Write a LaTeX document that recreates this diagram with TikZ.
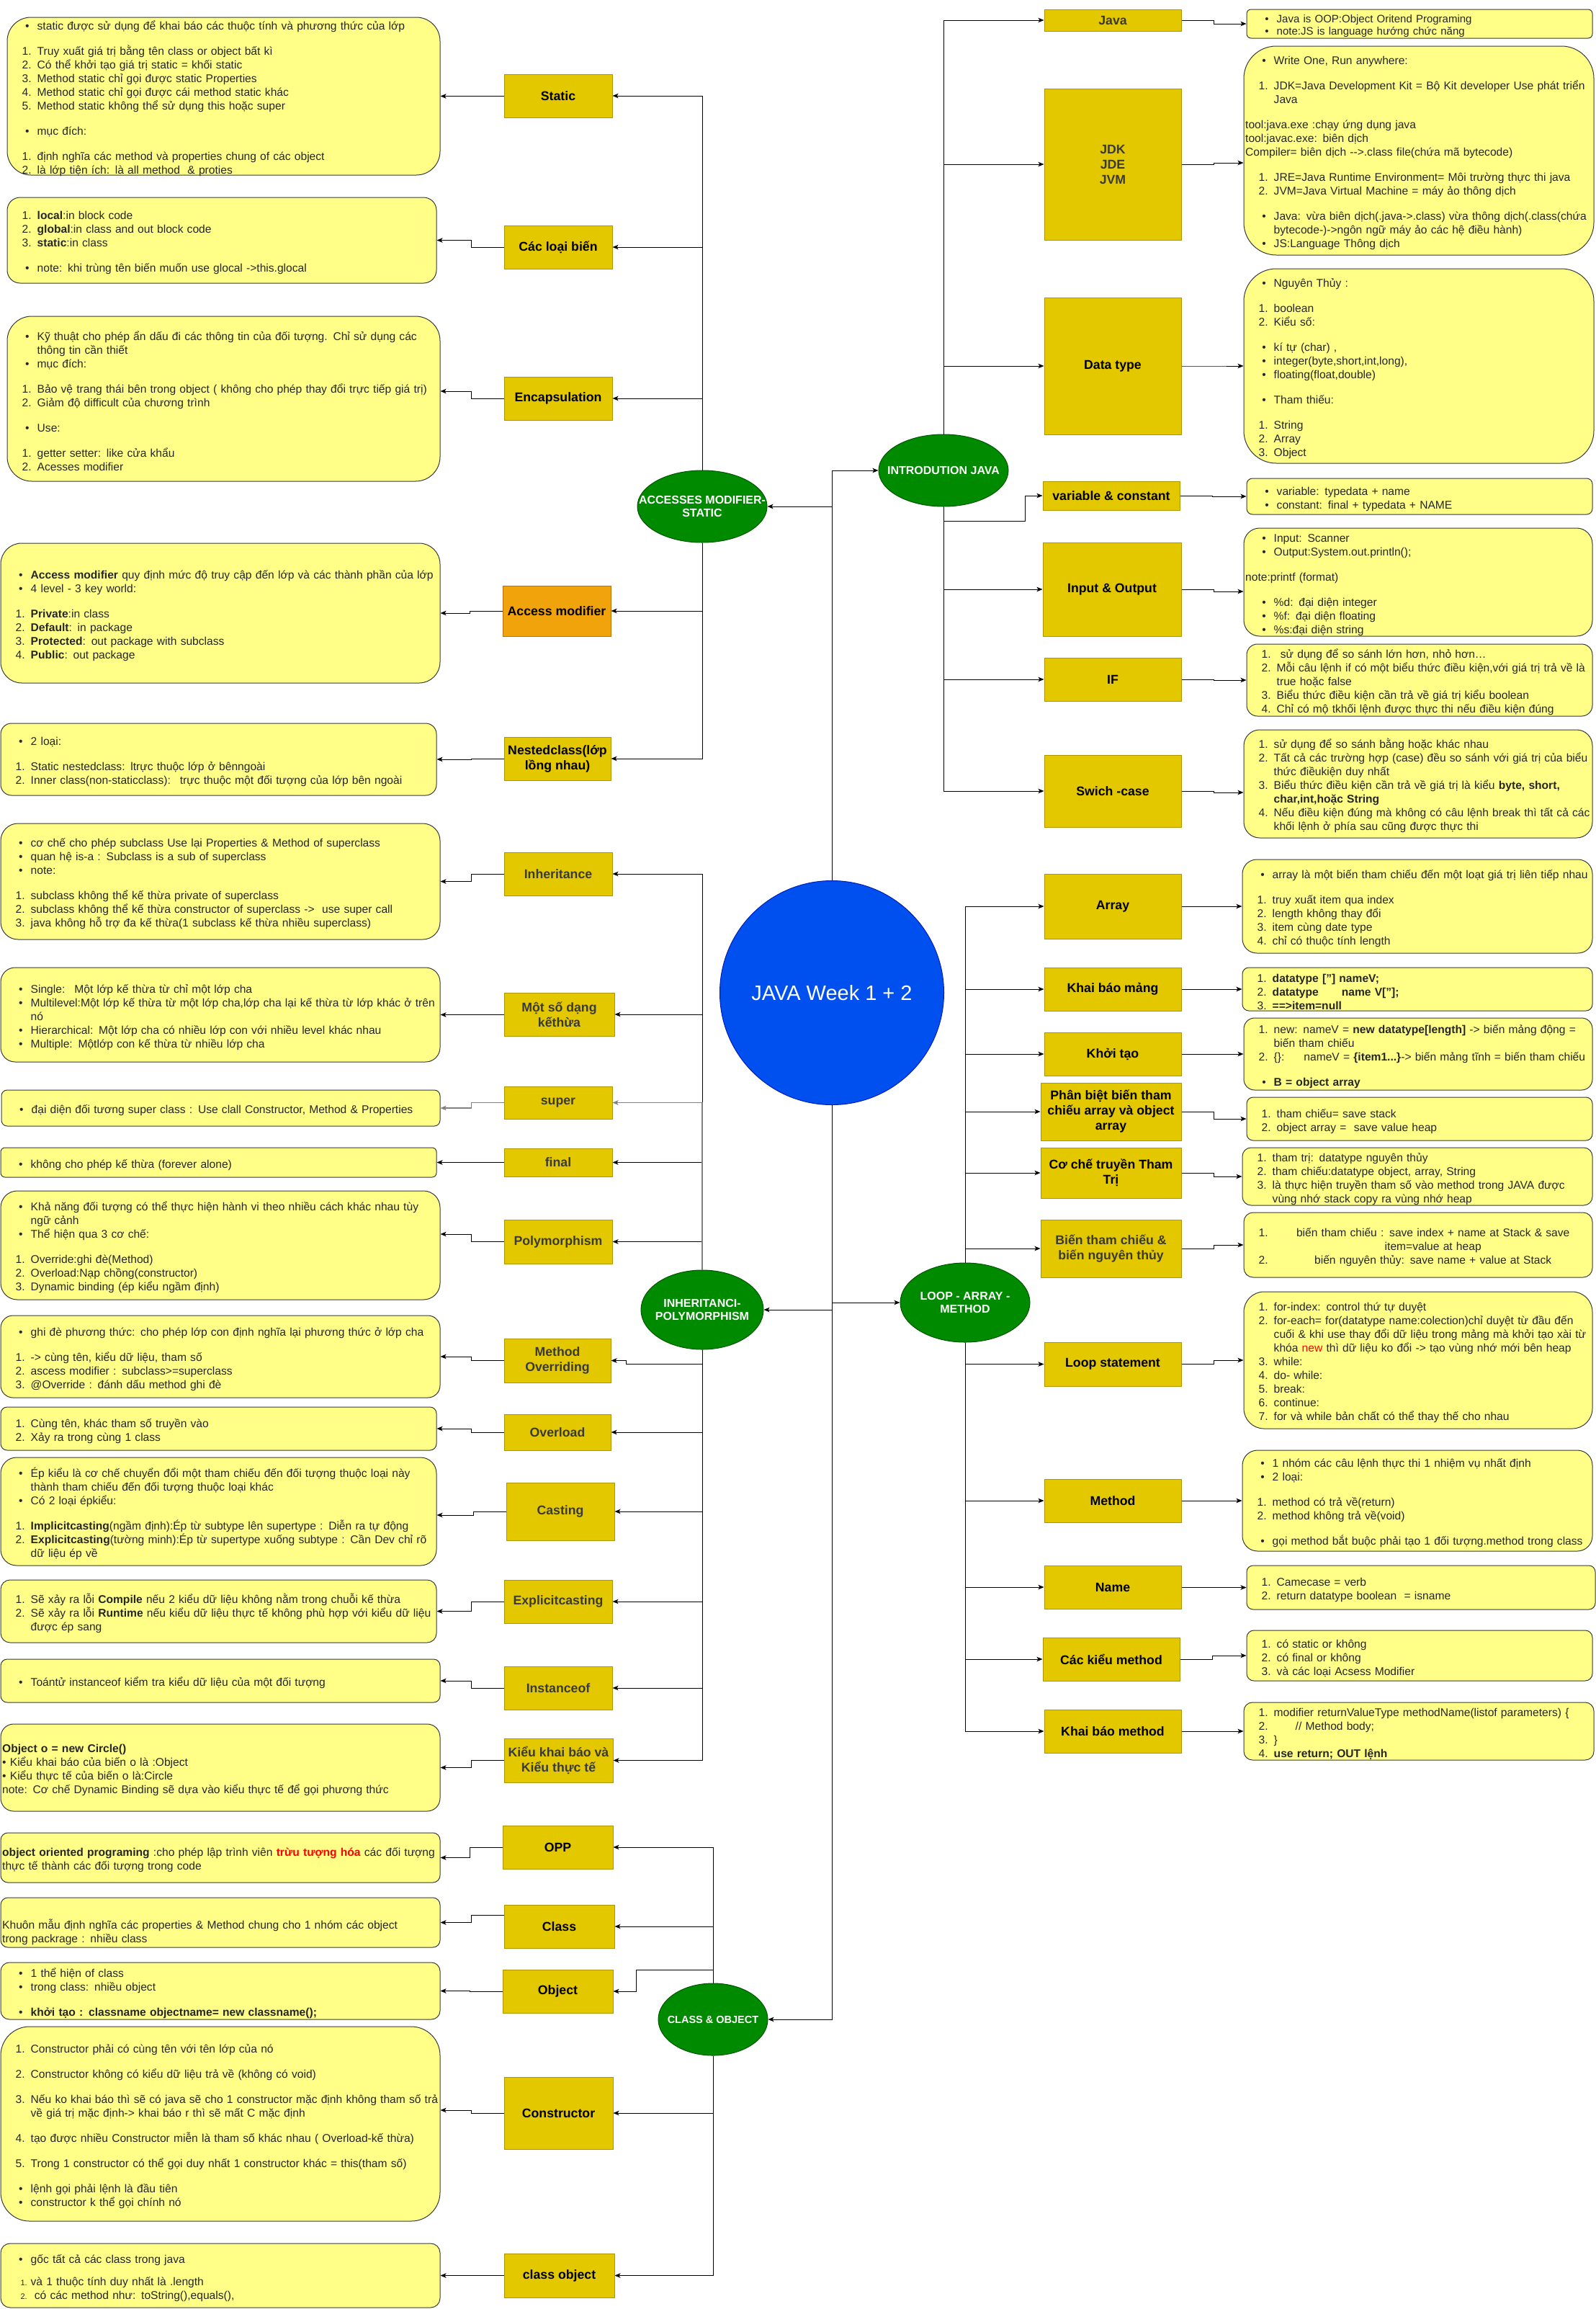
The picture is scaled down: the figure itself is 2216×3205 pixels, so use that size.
\documentclass[tikz,border=0pt]{standalone}
\usepackage{fontspec}
\setmainfont{Liberation Sans}
\usetikzlibrary{shapes.geometric,arrows.meta,calc}
\definecolor{boxfill}{HTML}{E3C800}
\definecolor{boxline}{HTML}{B09500}
\definecolor{ofill}{HTML}{F0A30A}
\definecolor{oline}{HTML}{BD7000}
\definecolor{notefill}{HTML}{FFFF88}
\definecolor{noteline}{HTML}{36393D}
\definecolor{hubfill}{HTML}{008A00}
\definecolor{hubline}{HTML}{005700}
\definecolor{mainfill}{HTML}{0050EF}
\definecolor{mainline}{HTML}{001DBC}
\definecolor{ntxt}{HTML}{262626}
\definecolor{gtxt}{HTML}{3A3A3A}
\definecolor{gline}{HTML}{808080}
\definecolor{redtxt}{HTML}{FF0000}

\newlength\IND \setlength\IND{39.5pt}
\newcommand\BU{\par\noindent\hangindent\IND\hangafter1\hbox to\IND{\hfil\textbullet\hskip11pt}\ignorespaces}
\newcommand\NU[1]{\par\noindent\hangindent\IND\hangafter1\hbox to\IND{\hfil#1.\hskip8pt}\ignorespaces}
\newcommand\SNU[1]{\par\noindent\hangindent\IND\hangafter1\hbox to\IND{\hfil{\fontsize{11}{11}\selectfont#1.}\hskip5pt}\ignorespaces}
\newcommand\PL{\par\noindent\ignorespaces}
\newcommand\GAP[1][16pt]{\par\vspace{#1}}

\newcommand\NOTE[7]{%
  \node[note, minimum width=#4pt, minimum height=#5pt, rounded corners=#6pt] (#1) at (#2,#3) {};
  \pgfmathsetmacro\notetw{#4+60}%
  \node[ntext, text width=\notetw pt] (#1t) at ([xshift=2.5pt]#1.west) {#7\par};
}
\newcommand\LE[3][0pt]{\draw[conn] (#2.west) -- ++(-45,0) |- ([yshift=#1]#3.east);}
\newcommand\RE[3][0pt]{\draw[conn] (#2.east) -- ++(45,0) |- ([yshift=#1]#3.west);}

\begin{document}
\begin{tikzpicture}[x=1pt,y=-1pt,
  box/.style={draw=boxline, fill=boxfill, line width=1pt, inner sep=0pt, align=center, text=black, font=\fontsize{17.7}{21}\selectfont\bfseries},
  gbox/.style={box, text=gtxt},
  obox/.style={box, fill=ofill, draw=oline},
  hub/.style={ellipse, draw=hubline, fill=hubfill, line width=1pt, inner sep=0pt},
  hubtext/.style={inner sep=0pt, align=center, text=white, font=\fontsize{16}{18.5}\selectfont\bfseries},
  note/.style={draw=noteline, fill=notefill, line width=1pt, inner sep=0pt},
  ntext/.style={anchor=west, inner sep=0pt, align=left, text=ntxt, font=\fontsize{15.6}{19}\selectfont},
  conn/.style={draw=black, line width=1pt, -{Stealth[length=8pt,width=6.5pt,inset=2pt]}},
  gconn/.style={conn, draw=gline, line width=1.4pt}
]
\useasboundingbox (0,0) rectangle (2216,3205);
\fill[white] (0,0) rectangle (2216,3205);

% ---------------- hubs ----------------
\node[ellipse, draw=mainline, fill=mainfill, line width=1pt, inner sep=0pt, minimum width=311pt, minimum height=311pt] (hMain) at (1155,1378) {};
\node[inner sep=0pt, text=white, font=\fontsize{29}{33}\selectfont] (hMainT) at (hMain.center) {JAVA Week 1 + 2};
\node[hub, minimum width=180pt, minimum height=100pt] (hAccess) at (975,703) {};
\node[hubtext] (hAccessT) at (hAccess.center) {ACCESSES MODIFIER-\\STATIC};
\node[hub, minimum width=180pt, minimum height=100pt] (hIntro) at (1310,653) {};
\node[hubtext] (hIntroT) at (hIntro.center) {INTRODUTION JAVA};
\node[hub, minimum width=170pt, minimum height=110pt] (hInherit) at (975,1818) {};
\node[hubtext] (hInheritT) at (hInherit.center) {INHERITANCI-\\POLYMORPHISM};
\node[hub, minimum width=180pt, minimum height=110pt] (hLoop) at (1340,1808) {};
\node[hubtext] (hLoopT) at (hLoop.center) {LOOP - ARRAY -\\METHOD};
\node[hub, minimum width=152pt, minimum height=100pt] (hClass) at (990,2803) {};
\node[hubtext, font=\fontsize{14.5}{17}\selectfont\bfseries] (hClassT) at (hClass.center) {CLASS \& OBJECT};

% ---------------- left boxes ----------------
\node[box, minimum width=150pt, minimum height=60pt] (bStatic) at (775,133) {Static};
\node[box, minimum width=150pt, minimum height=60pt] (bCacloai) at (775,343) {Các loại biến};
\node[box, minimum width=150pt, minimum height=60pt] (bEnc) at (775,553) {Encapsulation};
\node[obox, minimum width=150pt, minimum height=70pt] (bAccess) at (773,848) {Access modifier};
\node[box, minimum width=148pt, minimum height=60pt] (bNested) at (774,1053) {Nestedclass(lớp\\lồng nhau)};
\node[gbox, minimum width=150pt, minimum height=60pt] (bInherit) at (775,1213) {Inheritance};
\node[gbox, minimum width=153pt, minimum height=60pt] (bMotso) at (776.5,1408) {Một số dạng\\kếthừa};
\node[gbox, minimum width=150pt, minimum height=45pt] (bSuper) at (775,1530.5) {super};
\node[gbox, minimum width=150pt, minimum height=39pt] (bFinal) at (775,1613.5) {final};
\node[gbox, minimum width=150pt, minimum height=61pt] (bPoly) at (775,1723.5) {Polymorphism};
\node[gbox, minimum width=148pt, minimum height=61pt] (bOverriding) at (774,1888.5) {Method\\Overriding};
\node[gbox, minimum width=148pt, minimum height=50pt] (bOverload) at (774,1988) {Overload};
\node[gbox, minimum width=150pt, minimum height=80pt] (bCasting) at (778,2098) {Casting};
\node[gbox, minimum width=150pt, minimum height=60pt] (bExplicit) at (775,2223) {Explicitcasting};
\node[gbox, minimum width=150pt, minimum height=60pt] (bInstance) at (775,2343) {Instanceof};
\node[gbox, minimum width=151pt, minimum height=61pt] (bKieu) at (775.5,2443.5) {Kiểu khai báo và\\Kiểu thực tế};
\node[box, minimum width=153pt, minimum height=60pt] (bOPP) at (774.5,2564) {OPP};
\node[box, minimum width=153pt, minimum height=60pt] (bClass) at (776.5,2674) {Class};
\node[box, minimum width=153pt, minimum height=60pt] (bObject) at (774.5,2764) {Object};
\node[box, minimum width=151pt, minimum height=100pt] (bConstructor) at (775.5,2933) {Constructor};
\node[box, minimum width=153pt, minimum height=61pt] (bClassObject) at (776.5,3158.5) {class object};

% ---------------- right boxes ----------------
\node[gbox, minimum width=190pt, minimum height=30pt] (bJava) at (1545,28) {Java};
\node[gbox, minimum width=190pt, minimum height=210pt] (bJDK) at (1545,228) {JDK\\JDE\\JVM};
\node[box, minimum width=190pt, minimum height=190pt] (bData) at (1545,508) {Data type};
\node[box, minimum width=190pt, minimum height=40pt] (bVar) at (1543,688) {variable \& constant};
\node[box, minimum width=192pt, minimum height=130pt] (bIO) at (1544,818) {Input \& Output};
\node[box, minimum width=190pt, minimum height=60pt] (bIF) at (1545,943) {IF};
\node[box, minimum width=190pt, minimum height=100pt] (bSwich) at (1545,1098) {Swich -case};
\node[box, minimum width=190pt, minimum height=90pt] (bArray) at (1545,1258) {Array};
\node[box, minimum width=190pt, minimum height=60pt] (bKbm) at (1545,1373) {Khai báo mảng};
\node[box, minimum width=190pt, minimum height=60pt] (bKhoi) at (1545,1463) {Khởi tạo};
\node[box, minimum width=195pt, minimum height=80pt] (bPhan) at (1542.5,1543) {Phân biệt biến tham\\chiếu array và object\\array};
\node[box, minimum width=195pt, minimum height=70pt] (bCoche) at (1542.5,1628) {Cơ chế truyền Tham\\Trị};
\node[gbox, minimum width=195pt, minimum height=80pt] (bBien) at (1542.5,1733) {Biến tham chiếu \&\\biến nguyên thủy};
\node[box, minimum width=190pt, minimum height=61pt] (bLoop) at (1545,1893.5) {Loop statement};
\node[box, minimum width=190pt, minimum height=60pt] (bMethod) at (1545,2083) {Method};
\node[box, minimum width=190pt, minimum height=60pt] (bName) at (1545,2203) {Name};
\node[box, minimum width=190pt, minimum height=60pt] (bCackieu) at (1543,2303) {Các kiểu method};
\node[box, minimum width=190pt, minimum height=60pt] (bKbmethod) at (1545,2403) {Khai báo method};

% ---------------- left notes ----------------
\NOTE{nStatic}{310.5}{133.5}{601}{219}{33}{%
\BU static được sử dụng để khai báo các thuộc tính và phương thức của lớp
\GAP\NU{1}Truy xuất giá trị bằng tên class or object bất kì
\NU{2}Có thể khởi tạo giá trị static = khối static
\NU{3}Method static chỉ gọi được static Properties
\NU{4}Method static chỉ gọi được cái method static khác
\NU{5}Method static không thể sử dụng this hoặc super
\GAP\BU mục đích:
\GAP\NU{1}định nghĩa các method và properties chung of các object
\NU{2}là lớp tiện ích: là all method \ \& proties}

\NOTE{nCacloai}{308}{333.5}{596}{119}{18}{%
\NU{1}\textbf{local}:in block code
\NU{2}\textbf{global}:in class and out block code
\NU{3}\textbf{static}:in class
\GAP\BU note: khi trùng tên biến muốn use glocal ->this.glocal}

\NOTE{nEnc}{310.5}{553.5}{601}{229}{34}{%
\BU Kỹ thuật cho phép ẩn dấu đi các thông tin của đối tượng. Chỉ sử dụng các\newline thông tin cần thiết
\BU mục đích:
\GAP\NU{1}Bảo vệ trang thái bên trong object ( không cho phép thay đổi trực tiếp giá trị)
\NU{2}Giảm độ difficult của chương trình
\GAP\BU Use:
\GAP\NU{1}getter setter: like cửa khẩu
\NU{2}Acesses modifier}

\NOTE{nAccess}{306}{851}{610}{194}{29}{%
\BU \textbf{Access modifier} quy định mức độ truy cập đến lớp và các thành phần của lớp
\BU 4 level - 3 key world:
\GAP\NU{1}\textbf{Private}:in class
\NU{2}\textbf{Default}: in package
\NU{3}\textbf{Protected}: out package with subclass
\NU{4}\textbf{Public}: out package}

\NOTE{nNested}{303.5}{1054}{605}{100}{15}{%
\BU 2 loại:
\GAP\NU{1}Static nestedclass: ltrực thuộc lớp ở bênngoài
\NU{2}Inner class(non-staticclass): \ trực thuộc một đối tượng của lớp bên ngoài}

\NOTE{nInherit}{306}{1223.5}{610}{161}{24}{%
\BU cơ chế cho phép subclass Use lại Properties \& Method of superclass
\BU quan hệ is-a : Subclass is a sub of superclass
\BU note:
\GAP\NU{1}subclass không thể kế thừa private of superclass
\NU{2}subclass không thể kế thừa constructor of superclass -> \ use super call
\NU{3}java không hỗ trợ đa kế thừa(1 subclass kế thừa nhiều superclass)}

\NOTE{nMotso}{306}{1408.5}{610}{131}{20}{%
\BU Single: \ Một lớp kế thừa từ chỉ một lớp cha
\BU Multilevel:Một lớp kế thừa từ một lớp cha,lớp cha lại kế thừa từ lớp khác ở trên\newline nó
\BU Hierarchical: Một lớp cha có nhiều lớp con với nhiều level khác nhau
\BU Multiple: Mộtlớp con kế thừa từ nhiều lớp cha}

\NOTE{nSuper}{306.5}{1538}{609}{50}{8}{%
\BU đại diện đối tương super class : Use clall Constructor, Method \& Properties}

\NOTE{nFinal}{303.5}{1613.5}{605}{41}{6}{%
\BU không cho phép kế thừa (forever alone)}

\NOTE{nPoly}{306}{1728.5}{610}{151}{23}{%
\BU Khả năng đối tượng có thể thực hiện hành vi theo nhiều cách khác nhau tùy\newline ngữ cảnh
\BU Thể hiện qua 3 cơ chế:
\GAP\NU{1}Override:ghi đè(Method)
\NU{2}Overload:Nạp chồng(constructor)
\NU{3}Dynamic binding (ép kiểu ngầm định)}

\NOTE{nOverriding}{306}{1883}{610}{114}{17}{%
\BU ghi đè phương thức: cho phép lớp con định nghĩa lại phương thức ở lớp cha
\GAP\NU{1}-> cùng tên, kiểu dữ liệu, tham số
\NU{2}ascess modifier : subclass>=superclass
\NU{3}@Override : đánh dấu method ghi đè}

\NOTE{nOverload}{303.5}{1983}{605}{60}{9}{%
\NU{1}Cùng tên, khác tham số truyền vào
\NU{2}Xảy ra trong cùng 1 class}

\NOTE{nCasting}{303.5}{2098}{605}{150}{22}{%
\BU Ép kiểu là cơ chế chuyển đổi một tham chiếu đến đối tượng thuộc loại này\newline thành tham chiếu đến đối tượng thuộc loại khác
\BU Có 2 loại épkiểu:
\GAP\NU{1}\textbf{Implicitcasting}(ngầm định):Ép từ subtype lên supertype : Diễn ra tự động
\NU{2}\textbf{Explicitcasting}(tường minh):Ép từ supertype xuống subtype : Cần Dev chỉ rõ\newline dữ liệu ép về}

\NOTE{nExplicit}{303.5}{2236.5}{605}{87}{13}{%
\NU{1}Sẽ xảy ra lỗi \textbf{Compile} nếu 2 kiểu dữ liệu không nằm trong chuỗi kế thừa
\NU{2}Sẽ xảy ra lỗi \textbf{Runtime} nếu kiểu dữ liệu thực tế không phù hợp với kiểu dữ liệu\newline được ép sang}

\NOTE{nInstance}{306}{2333}{610}{60}{9}{%
\BU Toántử instanceof kiểm tra kiểu dữ liệu của một đối tượng}

\NOTE{nKieu}{306}{2453.5}{610}{121}{18}{%
\PL\textbf{Object o = new Circle()}
\PL• Kiểu khai báo của biến o là :Object
\PL• Kiểu thực tế của biến o là:Circle
\PL note: Cơ chế Dynamic Binding sẽ dựa vào kiểu thực tế để gọi phương thức}

\NOTE{nOPP}{306}{2578.5}{610}{69}{10}{%
\PL\textbf{object oriented programing} :cho phép lập trình viên \textcolor{redtxt}{\textbf{trừu tượng hóa}} các đối tượng\newline thực tế thành các đối tượng trong code}

\NOTE{nClass}{306}{2668.5}{610}{69}{10}{%
\PL\strut\newline Khuôn mẫu định nghĩa các properties \& Method chung cho 1 nhóm các object\newline trong packrage : nhiều class}

\NOTE{nObject}{306}{2763.5}{610}{79}{12}{%
\BU 1 thể hiện of class
\BU trong class: nhiều object
\GAP\BU \textbf{khởi tạo : classname objectname= new classname();}}

\NOTE{nConstructor}{306}{2948}{610}{270}{40}{%
\NU{1}Constructor phải có cùng tên với tên lớp của nó
\GAP\NU{2}Constructor không có kiểu dữ liệu trả về (không có void)
\GAP\NU{3}Nếu ko khai báo thì sẽ có java sẽ cho 1 constructor mặc định không tham số trả\newline về giá trị mặc định-> khai báo r thì sẽ mất C mặc định
\GAP\NU{4}tạo được nhiều Constructor miễn là tham số khác nhau ( Overload-kế thừa)
\GAP\NU{5}Trong 1 constructor có thể gọi duy nhất 1 constructor khác = this(tham số)
\GAP\BU lệnh gọi phải lệnh là đầu tiên
\BU constructor k thể gọi chính nó}

\NOTE{nClassObject}{306}{3158.5}{610}{89}{13}{%
\BU gốc tất cả các class trong java
\GAP[12pt]\SNU{1}và 1 thuộc tính duy nhất là .length
\SNU{2}\ có các method như: toString(),equals(),}

% ---------------- right notes ----------------
\NOTE{nJava}{1971}{33}{480}{40}{6}{%
\fontsize{15}{17.5}\selectfont
\BU Java is OOP:Object Oritend Programing
\BU note:JS is language hướng chức năng}

\NOTE{nJDK}{1970}{209}{486}{290}{45}{%
\BU Write One, Run anywhere:
\GAP\NU{1}JDK=Java Development Kit = Bộ Kit developer Use phát triển\newline Java
\GAP\PL tool:java.exe :chạy ứng dụng java
\PL tool:javac.exe: biên dịch
\PL Compiler= biên dịch -{}->.class file(chứa mã bytecode)
\GAP\NU{1}JRE=Java Runtime Environment= Môi trường thực thi java
\NU{2}JVM=Java Virtual Machine = máy ảo thông dịch
\GAP\BU Java: vừa biên dịch(.java->.class) vừa thông dịch(.class(chứa\newline bytecode-)->ngôn ngữ máy ảo các hệ điều hành)
\BU JS:Language Thông dịch}

\NOTE{nData}{1970}{508}{486}{270}{45}{%
\BU Nguyên Thủy :
\GAP\NU{1}boolean
\NU{2}Kiểu số:
\GAP\BU kí tự (char) ,
\BU integer(byte,short,int,long),
\BU floating(float,double)
\GAP\BU Tham thiếu:
\GAP\NU{1}String
\NU{2}Array
\NU{3}Object}

\NOTE{nVar}{1971}{689}{480}{50}{8}{%
\BU variable: typedata + name
\BU constant: final + typedata + NAME}

\NOTE{nIO}{1969}{808}{484}{150}{22}{%
\BU Input: Scanner
\BU Output:System.out.println();
\GAP\PL note:printf (format)
\GAP\BU \%d: đại diện integer
\BU \%f: đại diện floating
\BU \%s:đại diện string}

\NOTE{nIF}{1971}{944}{480}{100}{15}{%
\NU{1}\ sử dụng để so sánh lớn hơn, nhỏ hơn…
\NU{2}Mỗi câu lệnh if có một biểu thức điều kiện,với giá trị trả về là\newline true hoặc false
\NU{3}Biểu thức điều kiện cần trả về giá trị kiểu boolean
\NU{4}Chỉ có mộ tkhối lệnh được thực thi nếu điều kiện đúng}

\NOTE{nSwich}{1969}{1088}{484}{150}{22}{%
\NU{1}sử dụng để so sánh bằng hoặc khác nhau
\NU{2}Tất cả các trường hợp (case) đều so sánh với giá trị của biểu\newline thức điềukiện duy nhất
\NU{3}Biểu thức điều kiện cần trả về giá trị là kiểu \textbf{byte, short,}\newline\textbf{char,int,hoặc String}
\NU{4}Nếu điều kiện đúng mà không có câu lệnh break thì tất cả các\newline khối lệnh ở phía sau cũng được thực thi}

\NOTE{nArray}{1968}{1258}{486}{130}{20}{%
\BU array là một biến tham chiếu đến một loạt giá trị liên tiếp nhau
\GAP\NU{1}truy xuất item qua index
\NU{2}length không thay đổi
\NU{3}item cùng date type
\NU{4}chỉ có thuộc tính length}

\NOTE{nKbm}{1968}{1373}{486}{60}{9}{%
\NU{1}\textbf{datatype ["] nameV;}
\NU{2}\textbf{datatype\hspace{32pt}name V["];}
\NU{3}\textbf{==>item=null}}

\NOTE{nKhoi}{1969}{1463}{484}{100}{15}{%
\NU{1}new: nameV = \textbf{new datatype[length]} -> biến mảng động =\newline biến tham chiếu
\NU{2}\{\}:\hspace{27pt}nameV = \textbf{\{item1...\}}-> biến mảng tĩnh = biến tham chiếu
\GAP\BU \textbf{B = object array}}

\NOTE{nPhan}{1971}{1553}{480}{60}{9}{%
\NU{1}tham chiếu= save stack
\NU{2}object array = \ save value heap}

\NOTE{nCoche}{1968}{1633}{486}{80}{12}{%
\NU{1}tham trị: datatype nguyên thủy
\NU{2}tham chiếu:datatype object, array, String
\NU{3}là thực hiện truyền tham số vào method trong JAVA được\newline vùng nhớ stack copy ra vùng nhớ heap}

\NOTE{nBien}{1969}{1728}{484}{90}{13}{%
\NU{1}\hbox to 442pt{\hfil biến tham chiếu : save index + name at Stack \& save\hfil}
\PL\hbox to 481.5pt{\hskip\IND\hfil item=value at heap\hfil}
\NU{2}\hbox to 442pt{\hfil biến nguyên thủy: save name + value at Stack\hfil}}

\NOTE{nLoop}{1969}{1888}{484}{190}{28}{%
\NU{1}for-index: control thứ tự duyệt
\NU{2}for-each= for(datatype name:colection)chỉ duyệt từ đầu đến\newline cuối \& khi use thay đổi dữ liệu trong mảng mà khởi tạo xài từ\newline khóa \textcolor{redtxt}{new} thì dữ liệu ko đổi -> tạo vùng nhớ mới bên heap
\NU{3}while:
\NU{4}do- while:
\NU{5}break:
\NU{6}continue:
\NU{7}for và while bản chất có thể thay thế cho nhau}

\NOTE{nMethod}{1968}{2083}{486}{140}{21}{%
\BU 1 nhóm các câu lệnh thực thi 1 nhiệm vụ nhất định
\BU 2 loại:
\GAP\NU{1}method có trả về(return)
\NU{2}method không trả về(void)
\GAP\BU gọi method bắt buộc phải tạo 1 đối tượng.method trong class}

\NOTE{nName}{1973}{2203.5}{484}{61}{9}{%
\NU{1}Camecase = verb
\NU{2}return datatype boolean \ = isname}

\NOTE{nCackieu}{1971}{2298}{480}{70}{10}{%
\NU{1}có static or không
\NU{2}có final or không
\NU{3}và các loại Acsess Modifier}

\NOTE{nKbmethod}{1970}{2403}{486}{80}{12}{%
\NU{1}modifier returnValueType methodName(listof parameters) \{
\NU{2}\hspace{30pt}// Method body;
\NU{3}\}
\NU{4}\textbf{use return; OUT lệnh}}

% ---------------- trunk ----------------
\draw[conn] (hMain.north) |- (hAccess.east);
\draw[conn] (hMain.north) |- (hIntro.west);
\draw[conn] (hMain.south) |- (hInherit.east);
\draw[conn] (hMain.south) |- (hLoop.west);
\draw[conn] (hMain.south) |- (hClass.east);

% ---------------- ACCESSES branch ----------------
\foreach \b in {bStatic,bCacloai,bEnc} \draw[conn] (hAccess.north) |- (\b.east);
\foreach \b in {bAccess,bNested} \draw[conn] (hAccess.south) |- (\b.east);
\LE{bStatic}{nStatic}
\LE{bCacloai}{nCacloai}
\LE[10.5pt]{bEnc}{nEnc}
\LE{bAccess}{nAccess}
\LE{bNested}{nNested}

% ---------------- INHERITANCE branch ----------------
\foreach \b in {bInherit,bMotso,bFinal,bPoly} \draw[conn] (hInherit.north) |- (\b.east);
\draw[gconn] (hInherit.north) |- (bSuper.east);
\draw[conn] (hInherit.south) |- ([xshift=21pt,yshift=-5pt]bOverriding.east) |- (bOverriding.east);
\foreach \b in {bOverload,bCasting,bExplicit,bInstance,bKieu} \draw[conn] (hInherit.south) |- (\b.east);
\LE{bInherit}{nInherit}
\LE{bMotso}{nMotso}
\draw[gconn] (bSuper.west) -- ++(-45,0) |- (nSuper.east);
\LE{bFinal}{nFinal}
\LE[15.5pt]{bPoly}{nPoly}
\LE{bOverriding}{nOverriding}
\LE{bOverload}{nOverload}
\LE[-5pt]{bCasting}{nCasting}
\LE{bExplicit}{nExplicit}
\LE{bInstance}{nInstance}
\LE{bKieu}{nKieu}

% ---------------- CLASS branch ----------------
\foreach \b in {bOPP,bClass} \draw[conn] (hClass.north) |- (\b.east);
\draw[conn] (hClass.north) |- ([xshift=32pt,yshift=30pt]bObject.east) |- (bObject.east);
\foreach \b in {bConstructor,bClassObject} \draw[conn] (hClass.south) |- (\b.east);
\LE{bOPP}{nOPP}
\draw[conn] ([yshift=16pt]bClass.west) -- ++(-45,0) |- (nClass.east);
\LE{bObject}{nObject}
\LE[19pt]{bConstructor}{nConstructor}
\LE{bClassObject}{nClassObject}

% ---------------- INTRO branch ----------------
\foreach \b in {bJava,bJDK,bData} \draw[conn] (hIntro.north) |- (\b.west);
\draw[conn] (hIntro.south) |- ([xshift=-24pt,yshift=-35pt]bVar.west) |- (bVar.west);
\foreach \b in {bIO,bIF,bSwich} \draw[conn] (hIntro.south) |- (\b.west);
\RE{bJava}{nJava}
\RE[-17pt]{bJDK}{nJDK}
\RE{bData}{nData}
\RE{bVar}{nVar}
\RE[-13pt]{bIO}{nIO}
\RE{bIF}{nIF}
\RE[-12pt]{bSwich}{nSwich}

% ---------------- LOOP branch ----------------
\foreach \b in {bArray,bKbm,bKhoi,bPhan,bCoche,bBien} \draw[conn] (hLoop.north) |- (\b.west);
\foreach \b in {bLoop,bMethod,bName,bCackieu,bKbmethod} \draw[conn] (hLoop.south) |- (\b.west);
\RE{bArray}{nArray}
\RE{bKbm}{nKbm}
\RE{bKhoi}{nKhoi}
\RE{bPhan}{nPhan}
\RE{bCoche}{nCoche}
\RE{bBien}{nBien}
\RE{bLoop}{nLoop}
\RE{bMethod}{nMethod}
\RE{bName}{nName}
\RE{bCackieu}{nCackieu}
\RE{bKbmethod}{nKbmethod}
\end{tikzpicture}
\end{document}
